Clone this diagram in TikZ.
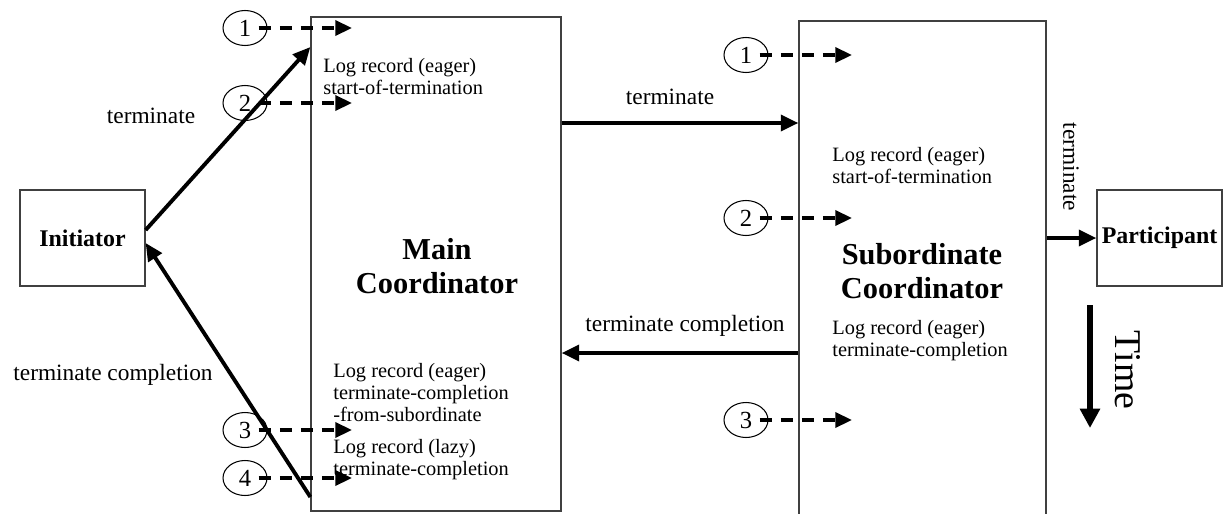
\documentclass[tikz,border=0pt]{standalone}
\usepackage{fontspec}
\setmainfont{Liberation Serif}
\usetikzlibrary{arrows.meta,shapes.geometric}
\begin{document}
\begin{tikzpicture}[x=0.02cm,y=-0.02cm,
  box/.style={draw=black!75,line width=0.75pt,rectangle,inner sep=0pt},
  boxlbl/.style={font=\fontsize{13.6}{16}\selectfont\bfseries},
  biglbl/.style={font=\fontsize{17.3}{19.3}\selectfont\bfseries,align=center,inner sep=0pt,anchor=north},
  logtxt/.style={font=\fontsize{11.6}{12.6}\selectfont,align=left,anchor=north west,inner sep=0pt},
  edgelbl/.style={font=\fontsize{13.3}{15}\selectfont,inner sep=0pt},
  stepnum/.style={draw,ellipse,line width=0.6pt,minimum width=0.88cm,minimum height=0.7cm,
    inner sep=0pt,font=\fontsize{14}{16}\selectfont},
  msg/.style={line width=2.2pt,-{Triangle[length=10pt,width=9pt]}},
  logarrow/.style={line width=2pt,dash pattern=on 7pt off 5pt,
    shorten <=-5pt,-{Triangle[length=9.5pt,width=8.5pt]}},
]
\useasboundingbox (0,0) rectangle (1228,514);

% participants and coordinators
\node[box,minimum width=2.5cm,minimum height=1.92cm,boxlbl] (init) at (82.5,238) {Initiator};
\node[box,minimum width=5.0cm,minimum height=9.88cm] (main) at (436,264) {};
\node[box,minimum width=4.94cm,minimum height=9.98cm] (sub) at (922.5,270.5) {};
\node[box,minimum width=2.5cm,minimum height=1.92cm,boxlbl] (part) at (1159.5,238) {Participant};

\node[biglbl] (mainlbl) at (437,238) {Main\\Coordinator};
\node[biglbl] (sublbl) at (922,243) {Subordinate\\Coordinator};

% log records written by the coordinators
\node[logtxt] (mlog1) at (323,58) {Log record (eager)\\start-of-termination};
\node[logtxt] (mlog2) at (333,363) {Log record (eager)\\terminate-completion\\-from-subordinate};
\node[logtxt] (mlog3) at (333,439) {Log record (lazy)\\terminate-completion};
\node[logtxt] (slog1) at (832,147) {Log record (eager)\\start-of-termination};
\node[logtxt] (slog2) at (832,320) {Log record (eager)\\terminate-completion};

% protocol messages
\draw[msg] ([yshift=0.16cm]init.east) -- (main.west |- 0,47);
\draw[msg] (main.west |- 0,497) -- ([yshift=-0.1cm]init.east);
\draw[msg] (main.east |- 0,123) -- (sub.west |- 0,123);
\draw[msg] (sub.west |- 0,353) -- (main.east |- 0,353);
\draw[msg] (sub.east |- part.west) -- (part.west);

\node[edgelbl] (lt1) at (151,116) {terminate};
\node[edgelbl] (lt2) at (113,375) {terminate completion};
\node[edgelbl] (lt3) at (670,97) {terminate};
\node[edgelbl] (lt4) at (685,326) {terminate completion};
\node[edgelbl,rotate=-90] (lt5) at (1071,167) {terminate};

% numbered logging steps
\node[stepnum] (c1) at (245,28) {1};
\node[stepnum] (c2) at (245,103) {2};
\node[stepnum] (c3) at (245,430) {3};
\node[stepnum] (c4) at (245,478) {4};
\node[stepnum] (d1) at (746,55) {1};
\node[stepnum] (d2) at (746,218) {2};
\node[stepnum] (d3) at (746,420) {3};

\coordinate (tc1) at (352,28);
\coordinate (tc2) at (352,103);
\coordinate (tc3) at (352,430);
\coordinate (tc4) at (352,478);
\coordinate (td1) at (852,55);
\coordinate (td2) at (852,218);
\coordinate (td3) at (852,420);

\draw[logarrow] (c1.east) -- (tc1);
\draw[logarrow] (c2.east) -- (tc2);
\draw[logarrow] (c3.east) -- (tc3);
\draw[logarrow] (c4.east) -- (tc4);
\draw[logarrow] (d1.east) -- (td1);
\draw[logarrow] (d2.east) -- (td2);
\draw[logarrow] (d3.east) -- (td3);

% time axis
\coordinate (ts) at (1090,305);
\coordinate (te) at (1090,428);
\draw[line width=3pt,-{Triangle[length=11pt,width=11pt]}] (ts) -- (te);
\node[font=\fontsize{21.5}{24}\selectfont,rotate=-90] (time) at (1128,370) {Time};
\end{tikzpicture}
\end{document}
